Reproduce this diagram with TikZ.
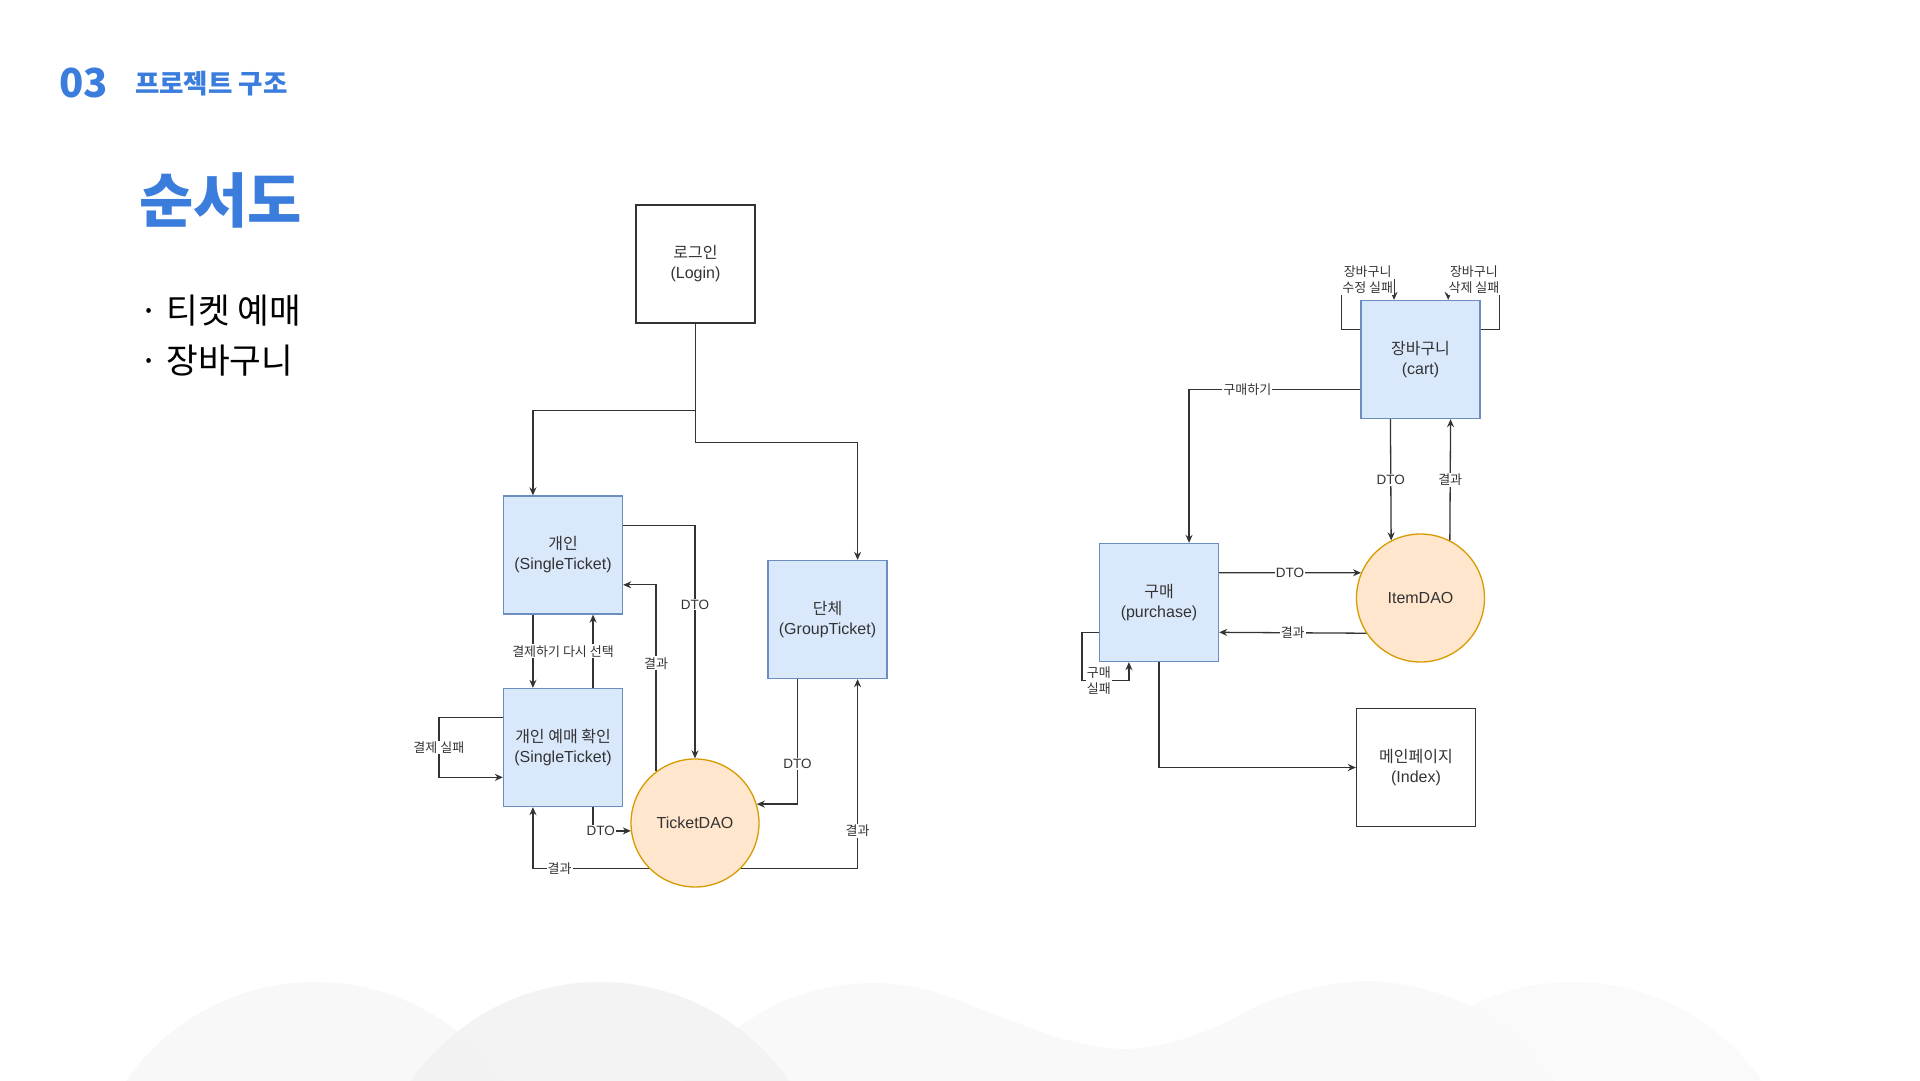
\documentclass[tikz,border=0pt]{standalone}
\usepackage{fontspec}
\setmainfont{Liberation Sans}
\newfontfamily\kr{Noto Sans CJK KR}
\usetikzlibrary{arrows.meta,calc}

\definecolor{titleblue}{HTML}{3B7DDD}
\definecolor{boxfill}{HTML}{DAE8FC}
\definecolor{boxline}{HTML}{6C8EBF}
\definecolor{daofill}{HTML}{FFE6CC}
\definecolor{daoline}{HTML}{D79B00}
\definecolor{linegray}{HTML}{333333}
\definecolor{humpa}{HTML}{F7F7F7}
\definecolor{humpb}{HTML}{F2F2F2}
\definecolor{humpc}{HTML}{F8F8F8}
\definecolor{humpd}{HTML}{FAFAFA}

\tikzset{
  plainbox/.style={draw=linegray, line width=1.3pt, fill=white, minimum width=119pt,
    minimum height=118pt, inner sep=0pt, align=center, text=linegray,
    font=\fontsize{16}{20}\selectfont},
  bluebox/.style={plainbox, draw=boxline, fill=boxfill},
  daonode/.style={circle, draw=daoline, fill=daofill, line width=1.3pt, minimum size=128pt,
    inner sep=0pt, text=linegray, font=\fontsize{16}{20}\selectfont},
  flow/.style={draw=linegray, line width=1.3pt},
  lbl/.style={fill=white, inner sep=1pt, text=linegray, align=center,
    font=\fontsize{13.5}{16}\selectfont},
  krlbl/.style={lbl, font=\kr\fontsize{13}{16}\selectfont},
  hump/.style={fill=#1, fill opacity=0.85},
}

\begin{document}
\begin{tikzpicture}[x=1pt, y=-1pt, >={Stealth[length=8pt,width=7pt]}]
\fill[white] (0,0) rectangle (1920,1080);
\useasboundingbox (0,0) rectangle (1920,1080);

\begin{scope}
  \clip (0,0) rectangle (1920,1080);
  \fill[hump=humpa] (315,1212) circle[radius=230pt];
  \fill[hump=humpc] plot[smooth] coordinates {(685,1080) (723,1039) (773,1006) (823,988.5)
    (873,983) (923,988.5) (973,1006) (1020,1024) (1063,1039) (1100,1047) (1132,1049)
    (1170,1043) (1216,1027) (1266,1002) (1316,987) (1366,981) (1416,987) (1466,1004)
    (1516,1035) (1553,1080)} -- (1553,1090) -- (685,1090) -- cycle;
  \fill[hump=humpb] (600,1212) circle[radius=230pt];
  \fill[hump=humpd] (1573,1212) circle[radius=230pt];
\end{scope}

\node[anchor=west, inner sep=0pt, text=titleblue, font=\kr\bfseries\fontsize{40}{40}\selectfont] (num) at (59,83) {03};
\node[anchor=west, inner sep=0pt, text=titleblue, font=\kr\bfseries\fontsize{26.5}{26.5}\selectfont] (section) at (135,84) {프로젝트 구조};
\node[anchor=west, inner sep=0pt, text=titleblue, font=\kr\bfseries\fontsize{59}{59}\selectfont] (title) at (139,200) {순서도};
\node[anchor=west, inner sep=0pt, font=\kr\fontsize{34.5}{34.5}\selectfont] (item1) at (139,311) {· 티켓 예매};
\node[anchor=west, inner sep=0pt, font=\kr\fontsize{34.5}{34.5}\selectfont] (item2) at (139,361) {· 장바구니};

\begin{scope}
  \node[plainbox] (login) at (695.5,264) {{\kr 로그인}\\(Login)};
  \node[bluebox] (single) at (563,555) {{\kr 개인}\\(SingleTicket)};
  \node[bluebox] (confirm) at (563,747.5) {{\kr 개인 예매 확인}\\(SingleTicket)};
  \node[bluebox] (group) at (827.5,619.5) {{\kr 단체}\\(GroupTicket)};
  \node[daonode] (tdao) at (695,823) {TicketDAO};

  \draw[flow,->] (login.south) -- ++(0,87) -| ($(single.north west)!.25!(single.north east)$);
  \draw[flow,->] (login.south) -- ++(0,119) -| ($(group.north west)!.75!(group.north east)$);
  \draw[flow,->] ($(single.north east)!.25!(single.south east)$) -| node[lbl,pos=.67]{DTO} (tdao.north);
  \draw[flow,->] (tdao.127) |- node[krlbl,pos=.29]{결과} ($(single.north east)!.75!(single.south east)$);
  \draw[flow,->] ($(single.south west)!.25!(single.south east)$) -- ($(confirm.north west)!.25!(confirm.north east)$);
  \draw[flow,->] ($(confirm.north west)!.75!(confirm.north east)$) -- ($(single.south west)!.75!(single.south east)$);
  \node[krlbl] (retry) at ($(single.south)!.5!(confirm.north)$) {결제하기 다시 선택};
  \draw[flow,->] ($(confirm.north west)!.25!(confirm.south west)$) -- ++(-64,0)
    |- node[krlbl,pos=.25]{결제 실패} ($(confirm.north west)!.75!(confirm.south west)$);
  \draw[flow,->] ($(confirm.south west)!.75!(confirm.south east)$) |- node[lbl,pos=.6]{DTO} (tdao.187);
  \draw[flow,->] (tdao.225) -| node[krlbl,pos=.385]{결과} ($(confirm.south west)!.25!(confirm.south east)$);
  \draw[flow,->] (tdao.-45) -| node[krlbl,pos=.6]{결과} ($(group.south west)!.75!(group.south east)$);
  \draw[flow,->] ($(group.south west)!.25!(group.south east)$) |- node[lbl,pos=.34]{DTO} (tdao.17);
\end{scope}

\begin{scope}
  \node[bluebox] (cart) at (1420.5,359.5) {{\kr 장바구니}\\(cart)};
  \node[bluebox] (purchase) at (1159,602.5) {{\kr 구매}\\(purchase)};
  \node[daonode] (idao) at (1420.5,598) {ItemDAO};
  \node[plainbox] (index) at (1416,767.5) {{\kr 메인페이지}\\(Index)};

  \draw[flow,->] ($(cart.north west)!.25!(cart.south west)$) -- ++(-19,0) -- ++(0,-50)
    -| node[krlbl,pos=.25]{장바구니\\수정 실패} ($(cart.north west)!.28!(cart.north east)$);
  \draw[flow,->] ($(cart.north east)!.25!(cart.south east)$) -- ++(19,0) -- ++(0,-50)
    -| node[krlbl,pos=.25]{장바구니\\삭제 실패} ($(cart.north west)!.73!(cart.north east)$);
  \draw[flow,->] ($(cart.north west)!.75!(cart.south west)$) -| node[krlbl,pos=.33]{구매하기} ($(purchase.north west)!.75!(purchase.north east)$);
  \draw[flow,->] ($(cart.south west)!.25!(cart.south east)$) -- node[lbl]{DTO} (idao.117);
  \draw[flow,->] (idao.63) -- node[krlbl]{결과} ($(cart.south west)!.75!(cart.south east)$);
  \draw[flow,->] ($(purchase.north east)!.25!(purchase.south east)$) -- node[lbl]{DTO} (idao.157);
  \draw[flow,->] (idao.213) -- node[krlbl]{결과} ($(purchase.north east)!.75!(purchase.south east)$);
  \draw[flow,->] ($(purchase.north west)!.75!(purchase.south west)$) -- ++(-17,0) -- ++(0,48)
    -| node[krlbl,pos=.18]{구매\\실패} ($(purchase.south west)!.25!(purchase.south east)$);
  \draw[flow,->] (purchase.south) |- (index.west);
\end{scope}
\end{tikzpicture}
\end{document}
